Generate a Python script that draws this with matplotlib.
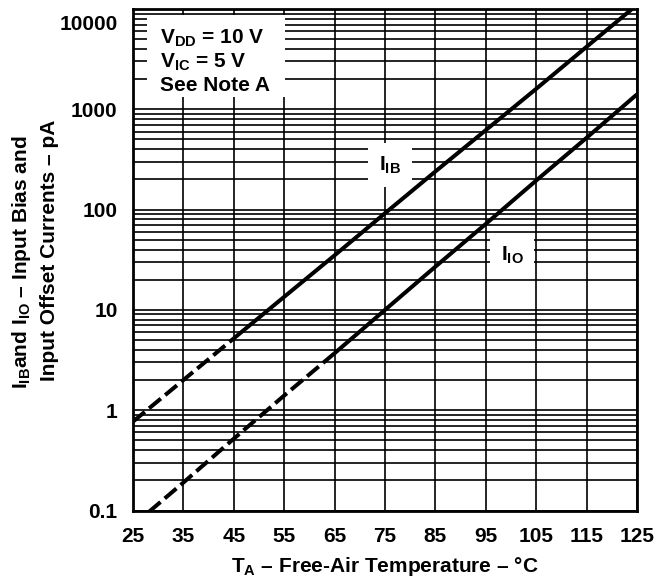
import numpy as np
import matplotlib
matplotlib.use("Agg")
import matplotlib.pyplot as plt
from matplotlib.ticker import LogLocator, FixedLocator, NullFormatter
from matplotlib.transforms import ScaledTranslation
from matplotlib.patches import Rectangle

plt.rcParams['font.family'] = ['Liberation Sans', 'DejaVu Sans']
plt.rcParams['font.weight'] = 'bold'
plt.rcParams['mathtext.fontset'] = 'custom'
plt.rcParams['mathtext.rm'] = 'Liberation Sans:bold'
plt.rcParams['mathtext.bf'] = 'Liberation Sans:bold'
plt.rcParams['mathtext.default'] = 'bf'
plt.rcParams['lines.scale_dashes'] = False

# temperatura (C) y corrientes (pA)
temp = [25, 35, 45, 55, 65, 75, 85, 95, 105, 115, 125]
i_ib = [0.77, 2.0, 5.2, 13.5, 35, 92, 240, 620, 1600, 4200, 11000]
i_io = [0.071, 0.19, 0.52, 1.4, 3.7, 10, 27, 72, 195, 520, 1410]
# hasta donde la curva va con trazos
ib_dash_hasta = 45
io_dash_hasta = 65

x_ticks = [25, 35, 45, 55, 65, 75, 85, 95, 105, 115, 125]
y_ticks = [0.1, 1, 10, 100, 1000]
y_labels = ['0.1', '1', '10', '100', '1000']

fs = 15
fig = plt.figure(figsize=(6.56, 5.77), dpi=100)
ax = fig.add_axes([133 / 656, 66.5 / 577, 504 / 656, 501.5 / 577])

t = np.array(temp)
for vals, corte in [(i_ib, ib_dash_hasta), (i_io, io_dash_hasta)]:
    v = np.array(vals)
    m = t <= corte
    ax.plot(t[m], v[m], color='black', lw=2.9, dashes=(11, 4), zorder=5)
    m2 = t >= corte
    ax.plot(t[m2], v[m2], color='black', lw=2.9, solid_capstyle='butt', zorder=5)

ax.set_yscale('log')
ax.set_xlim(25, 125)
ax.set_ylim(0.1, 10000)
ax.xaxis.set_major_locator(FixedLocator(x_ticks))
ax.set_xticklabels([str(x) for x in x_ticks], fontsize=fs, fontweight='bold')
ax.yaxis.set_major_locator(FixedLocator(y_ticks + [10000]))
ax.set_yticklabels(y_labels + [''], fontsize=fs, fontweight='bold')
ax.yaxis.set_minor_locator(LogLocator(base=10, subs=range(2, 10), numticks=20))
ax.yaxis.set_minor_formatter(NullFormatter())
ax.tick_params(which='both', length=0)
ax.tick_params(axis='y', pad=11)
ax.tick_params(axis='x', pad=12)
ax.grid(True, which='both', color='black', lw=1.2)
for s in ax.spines.values():
    s.set_linewidth(2)
    s.set_zorder(6)

# etiqueta 10000 un poco mas abajo
off = ScaledTranslation(-0.15, -0.15, fig.dpi_scale_trans)
ax.text(0, 10000, '10000', transform=ax.get_yaxis_transform() + off,
        ha='right', va='center', fontsize=fs, fontweight='bold')

# caja de condiciones
ax.add_patch(Rectangle((0.028, 0.8245), 0.274, 0.164, transform=ax.transAxes,
                       facecolor='white', edgecolor='none', zorder=3))
ax.text(0.054, 0.942, r'V$_{DD}$ = 10 V', transform=ax.transAxes, fontsize=fs,
        fontweight='bold', va='center', zorder=4)
ax.text(0.054, 0.894, r'V$_{IC}$ = 5 V', transform=ax.transAxes, fontsize=fs,
        fontweight='bold', va='center', zorder=4)
ax.text(0.054, 0.848, 'See Note A', transform=ax.transAxes, fontsize=fs,
        fontweight='bold', va='center', zorder=4)

# etiquetas de las curvas
ax.text(0.51, 0.689, r'I$_{IB}$', transform=ax.transAxes, fontsize=fs, fontweight='bold',
        ha='center', va='center', zorder=4,
        bbox=dict(facecolor='white', edgecolor='none', pad=8))
ax.text(0.752, 0.509, r'I$_{IO}$', transform=ax.transAxes, fontsize=fs, fontweight='bold',
        ha='center', va='center', zorder=4,
        bbox=dict(facecolor='white', edgecolor='none', pad=8))

# titulos de ejes
fig.text(385 / 656, 1 - 566 / 577, r'T$_A$ – Free-Air Temperature – °C', fontsize=fs,
         fontweight='bold', ha='center', va='center')
fig.text(22 / 656, 1 - 262 / 577, r'I$_{IB}$and I$_{IO}$ – Input Bias and', fontsize=fs,
         fontweight='bold', ha='center', va='center', rotation=90)
fig.text(50 / 656, 1 - 250 / 577, 'Input Offset Currents – pA', fontsize=fs,
         fontweight='bold', ha='center', va='center', rotation=90)

fig.savefig('out.png', dpi=100)
